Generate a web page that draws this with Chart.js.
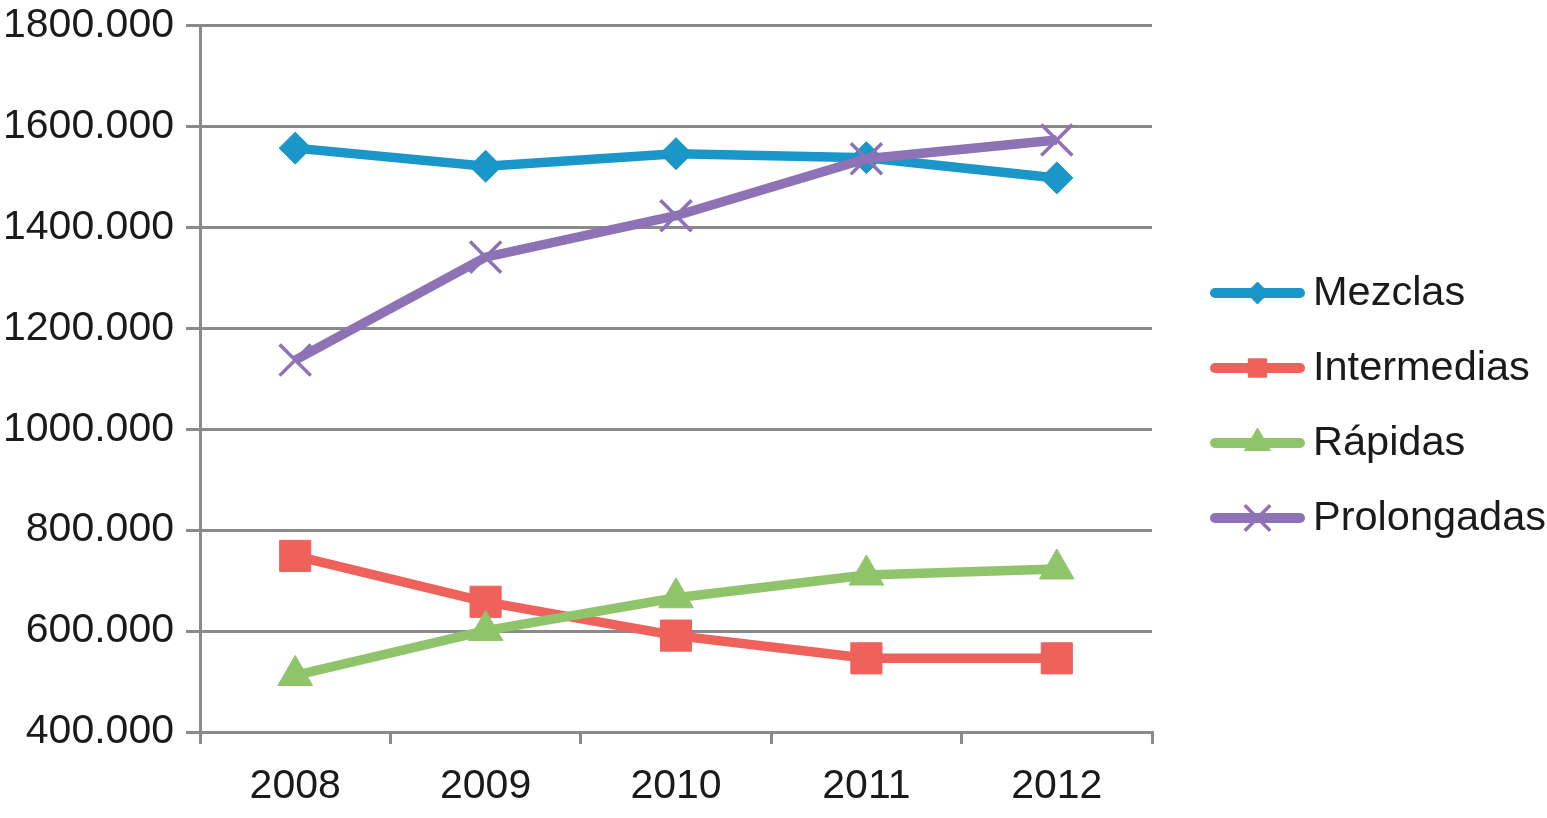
<!DOCTYPE html>
<html>
<head>
<meta charset="utf-8">
<script src="https://cdn.jsdelivr.net/npm/chart.js@4.4.1/dist/chart.umd.min.js"></script>
<style>
  html, body { margin: 0; padding: 0; background: #fff; }
  #wrap { width: 1547px; height: 818px; }
</style>
</head>
<body>
<div id="wrap"><canvas id="line-chart" width="1547" height="818"></canvas></div>
<script>
// values
const years = ["2008", "2009", "2010", "2011", "2012"];
const mezclas = [1557, 1521, 1546, 1538, 1498];
const intermedias = [749, 658, 591, 546, 546];
const rapidas = [512, 601, 666, 711, 723];
const prolongadas = [1137, 1341, 1423, 1536, 1573];
const yTicks = [400, 600, 800, 1000, 1200, 1400, 1600, 1800];

const gridColor = "#8a8a8a";
const textColor = "#1a1a1a";
const fontFamily = "'Liberation Sans', Arial, Helvetica, sans-serif";

function makeSet(label, values, color, style, radius, order, borderW) {
    return {
        label: label,
        data: values,
        borderColor: color,
        backgroundColor: color,
        borderWidth: 9.5,
        pointStyle: style,
        pointRadius: radius,
        pointHoverRadius: radius,
        pointBackgroundColor: color,
        pointBorderColor: color,
        pointBorderWidth: borderW,
        tension: 0,
        fill: false,
        order: order
    };
}

const datasets = [
    makeSet("Mezclas", mezclas, "#1a96c8", "rectRot", 16, 4, 1),
    makeSet("Intermedias", intermedias, "#ef615b", "rect", 22, 3, 1),
    makeSet("Rápidas", rapidas, "#8fc46a", "triangle", 20, 2, 1),
    makeSet("Prolongadas", prolongadas, "#8d73b5", "crossRot", 22, 1, 3.5)
];

// legend on the right: line segment with marker, then the name
const legendSizes = { rectRot: 11, rect: 13, triangle: 15, crossRot: 18 };
const sideLegend = {
    id: "sideLegend",
    afterDraw(chart) {
        const ctx = chart.ctx;
        const x0 = 1215, x1 = 1300, tx = 1313;
        const ys = [293, 368, 443, 518];
        ctx.save();
        chart.data.datasets.forEach(function (ds, i) {
            const y = ys[i];
            ctx.strokeStyle = ds.borderColor;
            ctx.lineWidth = 10;
            ctx.lineCap = "round";
            ctx.beginPath();
            ctx.moveTo(x0, y);
            ctx.lineTo(x1, y);
            ctx.stroke();
            ctx.lineCap = "butt";
            ctx.fillStyle = ds.backgroundColor;
            const bw = ds.pointStyle === "crossRot" ? 3.5 : 1;
            ctx.lineWidth = bw;
            if (Chart.helpers && Chart.helpers.drawPoint) {
                Chart.helpers.drawPoint(ctx, {
                    pointStyle: ds.pointStyle,
                    rotation: 0,
                    radius: legendSizes[ds.pointStyle],
                    borderWidth: bw
                }, (x0 + x1) / 2, y);
            }
            ctx.fillStyle = textColor;
            ctx.font = "41.5px " + fontFamily;
            ctx.textAlign = "left";
            ctx.textBaseline = "middle";
            ctx.fillText(ds.label, tx, y + 1);
        });
        ctx.restore();
    }
};

const chart = new Chart(document.getElementById("line-chart"), {
    type: "line",
    data: { labels: years, datasets: datasets },
    options: {
        responsive: false,
        animation: false,
        devicePixelRatio: 1,
        layout: { padding: { top: 18, right: 395, bottom: 0, left: 0 } },
        plugins: {
            legend: { display: false },
            tooltip: { enabled: false }
        },
        scales: {
            x: {
                offset: true,
                grid: {
                    offset: true,
                    drawOnChartArea: false,
                    drawTicks: true,
                    tickLength: 12,
                    color: gridColor,
                    lineWidth: 3
                },
                border: { display: true, color: gridColor, width: 3 },
                ticks: {
                    color: textColor,
                    padding: 18,
                    font: { family: fontFamily, size: 41 }
                },
                afterFit: function (scale) {
                    scale.height = 86;
                    scale.paddingLeft = 0;
                    scale.paddingRight = 0;
                }
            },
            y: {
                min: 400,
                max: 1800,
                afterBuildTicks: function (scale) {
                    scale.ticks = yTicks.map(function (v) { return { value: v }; });
                },
                grid: {
                    color: gridColor,
                    lineWidth: 3,
                    drawTicks: true,
                    tickLength: 14
                },
                border: { display: true, color: gridColor, width: 3 },
                ticks: {
                    color: textColor,
                    padding: 12,
                    font: { family: fontFamily, size: 41 },
                    callback: function (v) { return v + ".000"; }
                },
                afterFit: function (scale) {
                    scale.width = 200;
                    scale.paddingTop = 0;
                    scale.paddingBottom = 0;
                }
            }
        }
    },
    plugins: [sideLegend]
});
</script>
</body>
</html>
